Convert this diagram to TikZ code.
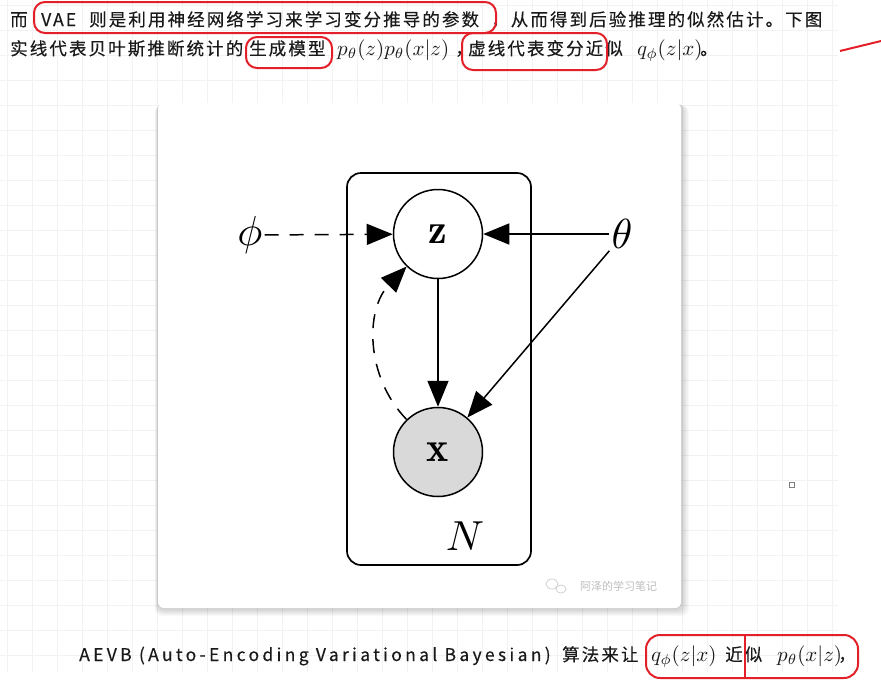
\documentclass[tikz,border=0pt]{standalone}
\usepackage{fontspec}
\usepackage{graphicx}
\usepackage{tikz}
\usetikzlibrary{arrows.meta,positioning}
\newfontfamily\cjk[LetterSpace=12,FakeBold=0.3]{Noto Sans CJK SC}
\newfontfamily\latinwide[LetterSpace=19,FakeBold=0.3]{Noto Sans CJK SC}
\newfontfamily\cjkplain{Noto Sans CJK SC}
\definecolor{noteRed}{HTML}{E3202A}
\definecolor{gridGray}{HTML}{F2F2F2}
\definecolor{obsFill}{HTML}{D9D9D9}
\definecolor{bodyText}{HTML}{1A1A1A}
\definecolor{markGray}{HTML}{BDBDBD}
\newcommand{\modelsym}[1]{\scalebox{4.2}{$#1$}}
\newcommand{\textmath}[1]{\scalebox{2.1}{$#1$}}
\tikzset{
  >={Triangle[length=26pt,width=21pt]},
  gridline/.style={draw=gridGray, line width=1.5pt},
  body/.style={anchor=base west, inner sep=0pt, text=bodyText,
               font=\cjk\fontsize{17.5}{20}\selectfont},
  bodylatin/.style={body, font=\latinwide\fontsize{17.5}{20}\selectfont},
  bodymath/.style={anchor=base west, inner sep=0pt, text=bodyText},
  latent/.style={circle, draw, line width=1.5pt, minimum size=89pt, inner sep=0pt,
                 fill=white},
  observed/.style={latent, fill=obsFill},
  param/.style={inner sep=2pt},
  platebox/.style={draw, line width=1.7pt, rounded corners=14pt, inner sep=0pt},
  gen/.style={->, line width=1.5pt},
  infer/.style={->, line width=1.5pt, dash pattern=on 14pt off 11pt},
  scribble/.style={draw=noteRed, line width=2pt, rounded corners=11pt},
  wmark/.style={inner sep=0pt, text=markGray, font=\cjkplain\fontsize{11}{12}\selectfont},
}
\begin{document}
\begin{tikzpicture}[x=1pt, y=-1pt]
  \useasboundingbox (0,0) rectangle (881,697);
  \fill[white] (0,0) rectangle (881,697);
  % page grid
  \foreach \gx in {0,...,33}
    \draw[gridline] ({7.5+25*\gx},0) -- ({7.5+25*\gx},672);
  \foreach \gy in {0,...,26}
    \draw[gridline] (0,{5.5+25*\gy}) -- (838,{5.5+25*\gy});

  % text above the figure
  \node[body] (l1a) at (10,26) {而};
  \node[body] (l1b) at (41,26) {VAE};
  \node[body] (l1c) at (89,26) {则是利用神经网络学习来学习变分推导的参数};
  \node[body] (l1d) at (491,26) {，从而得到后验推理的似然估计。下图};
  \node[body] (l2a) at (10,55) {实线代表贝叶斯推断统计的};
  \node[body] (l2b) at (249,55) {生成模型};
  \node[bodymath] (l2c) at (337,55) {\textmath{p_\theta(z)p_\theta(x|z)}};
  \node[body] (l2d) at (455,55) {，};
  \node[body] (l2e) at (468,55) {虚线代表变分近似};
  \node[bodymath] (l2f) at (637,55) {\textmath{q_\phi(z|x)}};
  \node[body] (l2g) at (700,55) {。};

  % card
  \foreach \s in {1,...,8}
    \fill[black, opacity=0.022, rounded corners=7pt]
      ({158-0.4*\s},{103+0.3*\s}) rectangle ({681+\s},{608+\s});
  \fill[white, rounded corners=6pt] (158,103) rectangle (681,608);

  % graphical model
  \node[platebox, minimum width=184pt, minimum height=392pt] (plate) at (439,369) {};
  \node[latent] (z) at (438,234) {\modelsym{\mathbf{z}}};
  \node[observed] (x) at (438,452) {\modelsym{\mathbf{x}}};
  \node[param] (phi) at (250,235) {\modelsym{\phi}};
  \node[param] (theta) at (622,234) {\modelsym{\theta}};
  \node[param] (N) at (465,536) {\modelsym{N}};

  \draw[infer] (phi) -- (z);
  \draw[gen] (theta) -- (z);
  \draw[gen] (theta.south west) -- (x);
  \draw[gen] (z) -- (x);
  \draw[infer] (x) to[bend left=44] (z);

  % watermark
  \draw[markGray!70, line width=0.8pt] (552,584) ellipse (6pt and 5pt);
  \draw[markGray!70, line width=0.8pt] (561,589) ellipse (5pt and 4pt);
  \node[wmark, anchor=west] (wm) at (580,586) {阿泽的学习笔记};

  \draw[gray, line width=1pt] (789.5,482.5) rectangle (794.5,487.5);

  % text below the figure
  \node[bodylatin] (l3a) at (79,661) {AEVB (Auto-Encoding Variational Bayesian)};
  \node[body] (l3b) at (562,661) {算法来让};
  \node[bodymath] (l3c) at (651,661) {\textmath{q_\phi(z|x)}};
  \node[body] (l3d) at (725,661) {近似};
  \node[bodymath] (l3e) at (777,661) {\textmath{p_\theta(x|z)}};
  \node[body] (l3f) at (838,661) {，};

  % red marks
  \draw[scribble] (34,2) rectangle (496,33);
  \draw[scribble] (246,37) rectangle (332,68);
  \draw[scribble] (462,33) rectangle (607,70);
  \draw[noteRed, line width=2pt] (840,51) -- (881,41);
  \draw[scribble, rounded corners=14pt] (646,635) rectangle (858,678);
  \draw[noteRed, line width=2pt] (745,635) -- (745,678);
\end{tikzpicture}
\end{document}
